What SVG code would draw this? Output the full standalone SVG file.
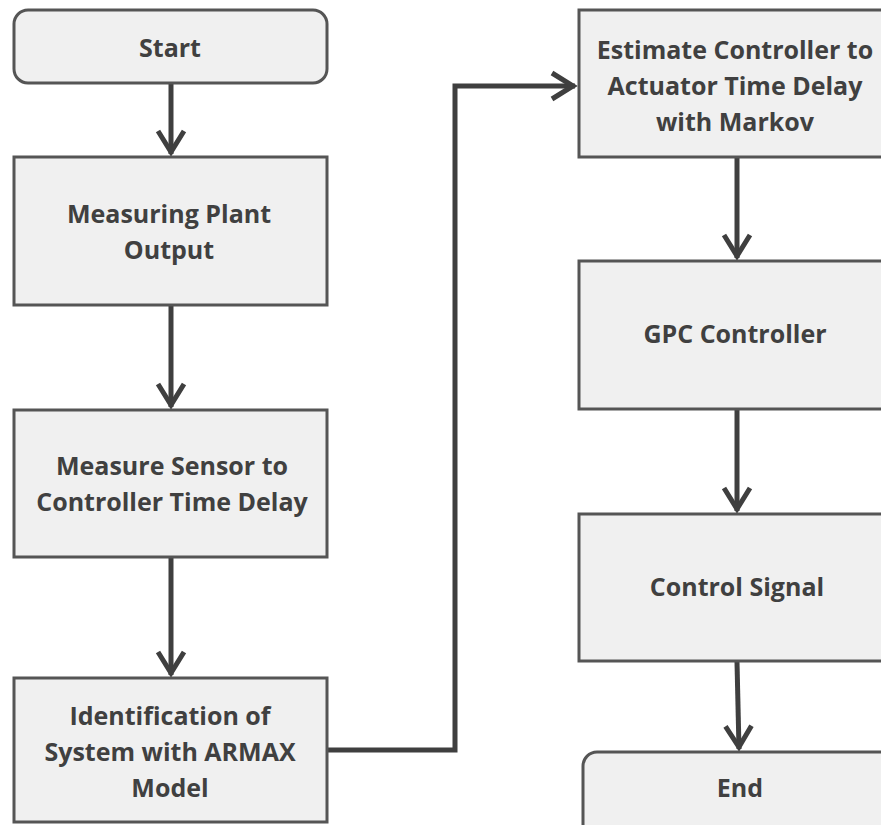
<svg xmlns="http://www.w3.org/2000/svg" width="881" height="825" viewBox="0 0 881 825">
  <style>
    .box { fill: #f0f0f0; stroke: #555555; stroke-width: 3; }
    .lbl { font-family: "Open Sans", "Liberation Sans", sans-serif; font-weight: 700; font-size: 25px; fill: #404040; text-anchor: middle; }
    .wire { fill: none; stroke: #3f3f3f; stroke-width: 5; stroke-linejoin: miter; marker-end: url(#chev); }
  </style>
  <defs>
    <marker id="chev" markerUnits="userSpaceOnUse" viewBox="-26 -16 32 32" refX="2" refY="0" markerWidth="32" markerHeight="32" orient="auto" overflow="visible">
      <path d="M -21 -13 L 0 0 L -21 13" fill="none" stroke="#3f3f3f" stroke-width="5" stroke-linejoin="miter"/>
    </marker>
  </defs>
  <rect width="881" height="825" fill="#ffffff"/>

  <g id="connectors">
    <path class="wire" d="M 171 84 L 171 154"/>
    <path class="wire" d="M 171 306 L 171 407"/>
    <path class="wire" d="M 171 558 L 171 675"/>
    <path class="wire" d="M 328 750 L 455 750 L 455 86 L 575 86"/>
    <path class="wire" d="M 737 158 L 737 258"/>
    <path class="wire" d="M 737 410 L 737 511"/>
    <path class="wire" d="M 737 662 L 739 749"/>
  </g>

  <g id="start">
    <rect class="box" x="14" y="10" width="313" height="73" rx="14"/>
    <text class="lbl" x="170" y="57">Start</text>
  </g>
  <g id="measuring-plant-output">
    <rect class="box" x="14" y="157" width="313" height="148"/>
    <text class="lbl" x="169" y="223">Measuring Plant</text>
    <text class="lbl" x="169" y="259">Output</text>
  </g>
  <g id="measure-sensor-delay">
    <rect class="box" x="14" y="410" width="313" height="147"/>
    <text class="lbl" x="172" y="475">Measure Sensor to</text>
    <text class="lbl" x="172" y="511">Controller Time Delay</text>
  </g>
  <g id="armax-identification">
    <rect class="box" x="14" y="678" width="313" height="144"/>
    <text class="lbl" x="170" y="725">Identification of</text>
    <text class="lbl" x="170" y="761">System with ARMAX</text>
    <text class="lbl" x="170" y="797">Model</text>
  </g>
  <g id="estimate-actuator-delay">
    <rect class="box" x="579" y="10" width="313" height="147"/>
    <text class="lbl" x="735" y="59">Estimate Controller to</text>
    <text class="lbl" x="735" y="95">Actuator Time Delay</text>
    <text class="lbl" x="735" y="131">with Markov</text>
  </g>
  <g id="gpc-controller">
    <rect class="box" x="579" y="261" width="313" height="148"/>
    <text class="lbl" x="735" y="343">GPC Controller</text>
  </g>
  <g id="control-signal">
    <rect class="box" x="579" y="514" width="313" height="147"/>
    <text class="lbl" x="737" y="596">Control Signal</text>
  </g>
  <g id="end">
    <rect class="box" x="583" y="752" width="313" height="90" rx="14"/>
    <text class="lbl" x="740" y="797">End</text>
  </g>
</svg>
